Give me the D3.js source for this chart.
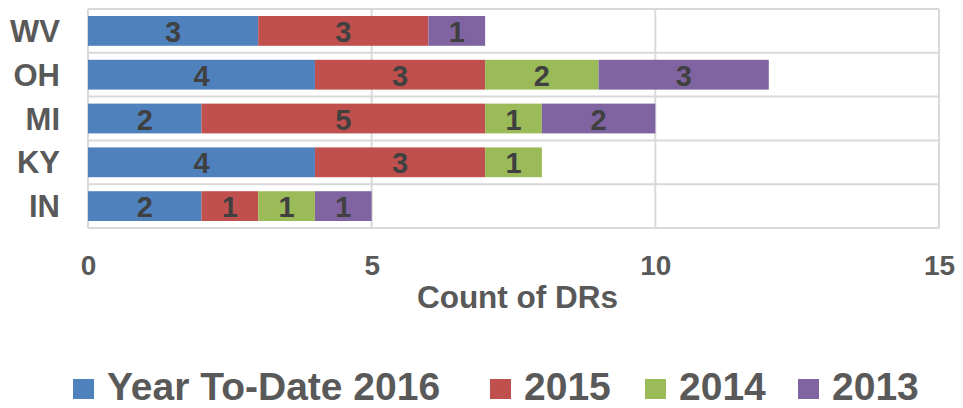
<!DOCTYPE html>
<html>
<head>
<meta charset="utf-8">
<script src="https://d3js.org/d3.v7.min.js"></script>
<style>
    body { margin: 0; background: #fff; }
    #chart { width: 963px; height: 408px; }
    text { font-family: "Liberation Sans", Arial, sans-serif; font-weight: bold; }
</style>
</head>
<body>
<div id="chart"></div>
<script>
// chart data
const states = ["WV", "OH", "MI", "KY", "IN"];
const seriesNames = ["Year To-Date 2016", "2015", "2014", "2013"];
const ytd2016 = [3, 4, 2, 4, 2];
const y2015 = [3, 3, 5, 3, 1];
const y2014 = [0, 2, 1, 1, 1];
const y2013 = [1, 3, 2, 0, 1];
const xTicks = [0, 5, 10, 15];
const colors = ["#4f81bd", "#c0504d", "#9bbb59", "#8064a2"];

class StackedBarVis {

    constructor(parentElement) {
        this.parentElement = parentElement;
        this.initVis();
    }

    initVis() {
        let vis = this;

        vis.margin = {top: 9, right: 24, bottom: 180, left: 88};
        vis.width = 963 - vis.margin.left - vis.margin.right;
        vis.height = 408 - vis.margin.top - vis.margin.bottom;

        vis.svg = d3.select(`#${vis.parentElement}`).append("svg")
            .attr("width", 963)
            .attr("height", 408)
            .append("g")
            .attr("transform", `translate(${vis.margin.left},${vis.margin.top})`);

        vis.x = d3.scaleLinear().domain([0, 15]).range([0, vis.width]);
        vis.y = d3.scaleBand().domain(states).range([0, vis.height]).paddingInner(0.32).paddingOuter(0.16);
        vis.color = d3.scaleOrdinal().domain(seriesNames).range(colors);

        vis.wrangleData();
    }

    wrangleData() {
        let vis = this;

        // rebuild rows for d3.stack
        let cols = [ytd2016, y2015, y2014, y2013];
        vis.rows = states.map((s, i) => {
            let row = {state: s};
            seriesNames.forEach((n, j) => row[n] = cols[j][i]);
            return row;
        });
        vis.stacked = d3.stack().keys(seriesNames)(vis.rows);

        vis.updateVis();
    }

    updateVis() {
        let vis = this;
        let grid = "#d9d9d9";

        // horizontal lines between categories
        let step = vis.y.step();
        let bounds = d3.range(states.length + 1).map(i => i * step);
        vis.svg.selectAll(".hgrid")
            .data(bounds)
            .enter().append("line")
            .attr("class", "hgrid")
            .attr("x1", 0).attr("x2", vis.width)
            .attr("y1", d => d).attr("y2", d => d)
            .attr("stroke", grid).attr("stroke-width", 2);

        // vertical grid lines
        vis.svg.selectAll(".vgrid")
            .data(xTicks)
            .enter().append("line")
            .attr("class", "vgrid")
            .attr("x1", d => vis.x(d)).attr("x2", d => vis.x(d))
            .attr("y1", 0).attr("y2", vis.height)
            .attr("stroke", grid).attr("stroke-width", 2);

        // bars
        let layers = vis.svg.selectAll(".layer")
            .data(vis.stacked)
            .enter().append("g")
            .attr("class", "layer")
            .attr("fill", d => vis.color(d.key));

        layers.selectAll("rect")
            .data(d => d.filter(p => p[1] - p[0] > 0))
            .enter().append("rect")
            .attr("x", d => vis.x(d[0]))
            .attr("y", d => vis.y(d.data.state))
            .attr("width", d => vis.x(d[1]) - vis.x(d[0]))
            .attr("height", vis.y.bandwidth());

        layers.selectAll(".val")
            .data(d => d.filter(p => p[1] - p[0] > 0))
            .enter().append("text")
            .attr("class", "val")
            .attr("x", d => vis.x((d[0] + d[1]) / 2))
            .attr("y", d => vis.y(d.data.state) + vis.y.bandwidth() / 2 + 11)
            .attr("text-anchor", "middle")
            .attr("fill", "#404040")
            .style("font-size", "29px")
            .text(d => d[1] - d[0]);

        // category labels
        vis.svg.selectAll(".cat")
            .data(states)
            .enter().append("text")
            .attr("class", "cat")
            .attr("x", -28)
            .attr("y", d => vis.y(d) + vis.y.bandwidth() / 2 + 11)
            .attr("text-anchor", "end")
            .attr("fill", "#595959")
            .style("font-size", "31px")
            .text(d => d);

        // x axis tick labels
        let xAxis = d3.axisBottom(vis.x).tickValues(xTicks).tickSize(0).tickPadding(0);
        let ax = vis.svg.append("g")
            .attr("transform", `translate(0,${vis.height})`)
            .call(xAxis);
        ax.select(".domain").remove();
        ax.selectAll("text")
            .attr("dy", 0).attr("y", 47)
            .attr("fill", "#595959")
            .style("font-size", "28px")
            .style("font-family", "'Liberation Sans', Arial, sans-serif")
            .style("font-weight", "bold");

        // axis title
        vis.svg.append("text")
            .attr("x", vis.width / 2 + 4)
            .attr("y", vis.height + 80)
            .attr("text-anchor", "middle")
            .attr("fill", "#595959")
            .style("font-size", "31.5px")
            .text("Count of DRs");

        // legend
        let legendX = [73 - vis.margin.left, 490 - vis.margin.left, 645 - vis.margin.left, 798 - vis.margin.left];
        let legend = vis.svg.selectAll(".legend")
            .data(seriesNames)
            .enter().append("g")
            .attr("class", "legend")
            .attr("transform", (d, i) => `translate(${legendX[i]},${379 - vis.margin.top})`);

        legend.append("rect")
            .attr("width", 21).attr("height", 20)
            .attr("fill", d => vis.color(d));

        legend.append("text")
            .attr("x", 34)
            .attr("y", 21)
            .attr("fill", "#595959")
            .style("font-size", "39px")
            .text(d => d);
    }
}

new StackedBarVis("chart");
</script>
</body>
</html>
